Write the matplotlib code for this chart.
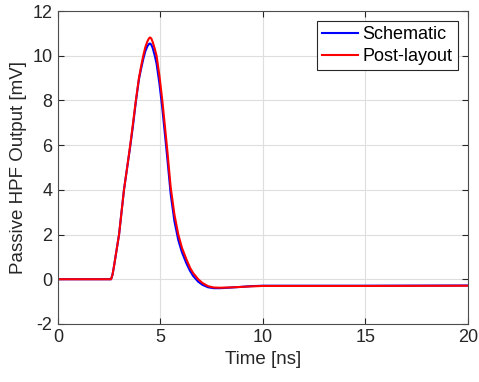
import matplotlib.pyplot as plt

# time axis [ns] and traces [mV]
t_ns = [0, 2.59, 2.66, 2.73, 2.86, 2.98, 3.1, 3.22, 3.36, 3.51, 3.65, 3.8,
        3.95, 4.05, 4.16, 4.26, 4.36, 4.44, 4.49, 4.55, 4.62, 4.71, 4.81,
        4.95, 5.09, 5.2, 5.33, 5.5, 5.68, 5.87, 6.05, 6.28, 6.45, 6.6, 6.84,
        7.05, 7.32, 7.6, 7.9, 8.3, 8.8, 9.4, 10, 12, 15, 20]
schematic = [0, 0, 0.2, 0.56, 1.31, 2.0, 3.0, 4.0, 4.9, 5.85, 6.8, 7.95,
             8.95, 9.4, 9.85, 10.2, 10.42, 10.53, 10.55, 10.5, 10.35, 10.05, 9.65,
             8.75, 7.65, 6.65, 5.45, 3.8, 2.6, 1.75, 1.2, 0.68, 0.36, 0.14, -0.11,
             -0.25, -0.36, -0.40, -0.40, -0.38, -0.35, -0.31, -0.29, -0.29, -0.29, -0.28]
post_layout = [0, 0, 0.2, 0.56, 1.31, 2.0, 3.0, 4.0, 4.9, 5.9, 6.9, 8.0,
               9.0, 9.5, 10.0, 10.38, 10.64, 10.78, 10.82, 10.78, 10.62, 10.35, 10.0,
               9.1, 8.0, 7.0, 5.8, 4.1, 2.9, 2.0, 1.4, 0.86, 0.5, 0.27, 0.0,
               -0.17, -0.31, -0.37, -0.38, -0.37, -0.35, -0.32, -0.30, -0.30, -0.30, -0.29]

x_ticks = [0, 5, 10, 15, 20]
y_ticks = [-2, 0, 2, 4, 6, 8, 10, 12]

plt.rcParams['font.family'] = ['Liberation Sans', 'DejaVu Sans']
plt.rcParams['axes.unicode_minus'] = False
txt = '#262626'

fig = plt.figure(figsize=(4.79, 3.82), dpi=100)
ax = fig.add_axes([0.121, 0.152, 0.856, 0.819])

ax.plot(t_ns, schematic, color='#0000ff', lw=1.5, label='Schematic')
ax.plot(t_ns, post_layout, color='#ff0000', lw=1.5, label='Post-layout')

ax.set_xlim(0, 20)
ax.set_ylim(-2, 12)
ax.set_xticks(x_ticks)
ax.set_yticks(y_ticks)
ax.grid(True, color='#dedede', lw=0.8)
ax.set_axisbelow(True)
ax.tick_params(direction='in', top=True, right=True, labelsize=13,
               colors=txt, length=4, width=0.8, pad=4)
for s in ax.spines.values():
    s.set_color('#4d4d4d')
    s.set_linewidth(0.8)

ax.set_xlabel('Time [ns]', fontsize=13.5, color=txt, labelpad=3)
ax.set_ylabel('Passive HPF Output [mV]', fontsize=13.5, color=txt, labelpad=4)

leg = ax.legend(loc='upper right', fontsize=13, fancybox=False, framealpha=1,
                edgecolor='#262626', borderpad=0.3, handlelength=2.0,
                handletextpad=0.25, labelspacing=0.25, borderaxespad=0.55)
leg.get_frame().set_linewidth(0.8)

fig.savefig('out.png', dpi=100)
